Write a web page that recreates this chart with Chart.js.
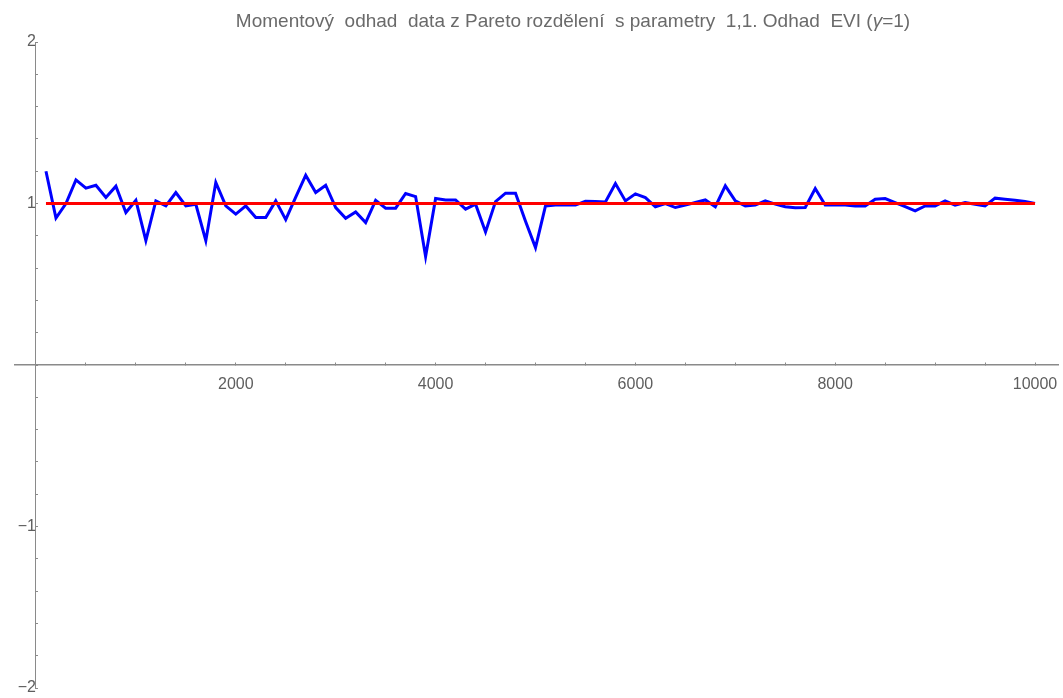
<!DOCTYPE html>
<html>
<head>
<meta charset="utf-8">
<script src="https://cdn.jsdelivr.net/npm/chart.js@4"></script>
<style>
  html, body { margin: 0; padding: 0; background: #fff; }
  #wrap { width: 1063px; height: 698px; }
</style>
</head>
<body>
<div id="wrap"><canvas id="evi"></canvas></div>
<script>
// sample sizes (x) and the moment estimate of EVI for each
const sizes = [100, 200, 300, 400, 500, 600, 700, 800, 900, 1000,
  1100, 1200, 1300, 1400, 1500, 1600, 1700, 1800, 1900, 2000,
  2100, 2200, 2300, 2400, 2500, 2600, 2700, 2800, 2900, 3000,
  3100, 3200, 3300, 3400, 3500, 3600, 3700, 3800, 3900, 4000,
  4100, 4200, 4300, 4400, 4500, 4600, 4700, 4800, 4900, 5000,
  5100, 5200, 5300, 5400, 5500, 5600, 5700, 5800, 5900, 6000,
  6100, 6200, 6300, 6400, 6500, 6600, 6700, 6800, 6900, 7000,
  7100, 7200, 7300, 7400, 7500, 7600, 7700, 7800, 7900, 8000,
  8100, 8200, 8300, 8400, 8500, 8600, 8700, 8800, 8900, 9000,
  9100, 9200, 9300, 9400, 9500, 9600, 9700, 9800, 9900, 10000];

const estimates = [1.20, 0.91, 1.00, 1.146, 1.095, 1.113, 1.037, 1.107, 0.944, 1.02,
  0.77, 1.016, 0.985, 1.068, 0.985, 0.995, 0.77, 1.13, 0.985, 0.934,
  0.985, 0.913, 0.913, 1.016, 0.90, 1.04, 1.175, 1.068, 1.113, 0.975,
  0.909, 0.948, 0.882, 1.02, 0.971, 0.971, 1.062, 1.043, 0.672, 1.031,
  1.022, 1.022, 0.965, 0.996, 0.824, 1.012, 1.064, 1.064, 0.89, 0.727,
  0.985, 0.99, 0.99, 0.99, 1.014, 1.013, 1.01, 1.124, 1.016, 1.06,
  1.037, 0.98, 1.0, 0.975, 0.99, 1.006, 1.022, 0.98, 1.109, 1.016,
  0.985, 0.99, 1.016, 0.996, 0.98, 0.973, 0.975, 1.093, 0.99, 0.99,
  0.99, 0.985, 0.985, 1.027, 1.031, 1.006, 0.98, 0.955, 0.985, 0.985,
  1.016, 0.99, 1.006, 0.995, 0.985, 1.033, 1.027, 1.02, 1.012, 1.0];

// true value gamma = 1
const trueX = [100, 10000];
const trueGamma = [1, 1];

// tick positions (minor + major) and which of them get a label
const xTicks = [0, 500, 1000, 1500, 2000, 2500, 3000, 3500, 4000, 4500, 5000,
  5500, 6000, 6500, 7000, 7500, 8000, 8500, 9000, 9500, 10000];
const xLabels = [2000, 4000, 6000, 8000, 10000];
const yTicks = [-2, -1.8, -1.6, -1.4, -1.2, -1, -0.8, -0.6, -0.4, -0.2, 0,
  0.2, 0.4, 0.6, 0.8, 1, 1.2, 1.4, 1.6, 1.8, 2];
const yLabels = [-2, -1, 1, 2];

// title, split so gamma can be italic
const titleParts = [
    { text: 'Momentový  odhad  data z Pareto rozdělení  s parametry  1,1. Odhad  EVI (', italic: false },
    { text: 'γ', italic: true },
    { text: '=1)', italic: false }
];

const axisGray = '#8a8a8a';
const labelGray = '#5e5e5e';
const fontFamily = 'Liberation Sans';

// draws the title centred over the plot like the original
const titlePlugin = {
    id: 'mmaTitle',
    afterDraw(chart) {
        const c = chart.ctx;
        c.save();
        c.fillStyle = '#6a6a6a';
        c.textBaseline = 'alphabetic';
        let total = 0;
        titleParts.forEach(p => {
            c.font = (p.italic ? 'italic ' : '') + '19px "' + fontFamily + '"';
            total += c.measureText(p.text).width;
        });
        let x = 573 - total / 2;
        titleParts.forEach(p => {
            c.font = (p.italic ? 'italic ' : '') + '19px "' + fontFamily + '"';
            c.fillText(p.text, x, 27);
            x += c.measureText(p.text).width;
        });
        c.restore();
    }
};

const ctx = document.getElementById('evi').getContext('2d');

new Chart(ctx, {
    type: 'line',
    data: {
        datasets: [
            {
                label: 'gamma',
                data: trueX.map((x, i) => ({ x: x, y: trueGamma[i] })),
                borderColor: '#ff0000',
                borderWidth: 3,
                pointRadius: 0,
                order: 0
            },
            {
                label: 'odhad',
                data: sizes.map((x, i) => ({ x: x, y: estimates[i] })),
                borderColor: '#0000ff',
                borderWidth: 3,
                pointRadius: 0,
                tension: 0,
                order: 1
            }
        ]
    },
    plugins: [titlePlugin],
    options: {
        responsive: true,
        maintainAspectRatio: false,
        animation: false,
        layout: { padding: { left: 15, right: 5, top: 42, bottom: 10 } },
        plugins: {
            legend: { display: false },
            tooltip: { enabled: false },
            title: { display: false }
        },
        scales: {
            x: {
                type: 'linear',
                position: { y: 0 },
                min: -210,
                max: 10230,
                afterBuildTicks: (scale) => { scale.ticks = xTicks.map(v => ({ value: v })); },
                // let the last label hang over the edge instead of shrinking the plot
                afterFit: (scale) => { scale.paddingLeft = 0; scale.paddingRight = 0; },
                border: { color: axisGray, width: 1.5 },
                grid: { drawOnChartArea: false, tickLength: -3, color: axisGray },
                ticks: {
                    autoSkip: false,
                    maxRotation: 0,
                    padding: 13,
                    color: labelGray,
                    font: { family: fontFamily, size: 16 },
                    callback: (v) => xLabels.includes(v) ? String(v) : ''
                }
            },
            y: {
                type: 'linear',
                position: { x: 0 },
                min: -2,
                max: 2,
                afterBuildTicks: (scale) => { scale.ticks = yTicks.map(v => ({ value: v })); },
                afterFit: (scale) => { scale.paddingTop = 0; scale.paddingBottom = 0; },
                border: { color: axisGray, width: 1 },
                grid: { drawOnChartArea: false, tickLength: -3, color: axisGray },
                ticks: {
                    autoSkip: false,
                    padding: 10,
                    color: labelGray,
                    font: { family: fontFamily, size: 16 },
                    callback: (v) => {
                        if (!yLabels.includes(v)) return '';
                        return v < 0 ? '\u2212' + Math.abs(v) : String(v);
                    }
                }
            }
        }
    }
});
</script>
</body>
</html>
